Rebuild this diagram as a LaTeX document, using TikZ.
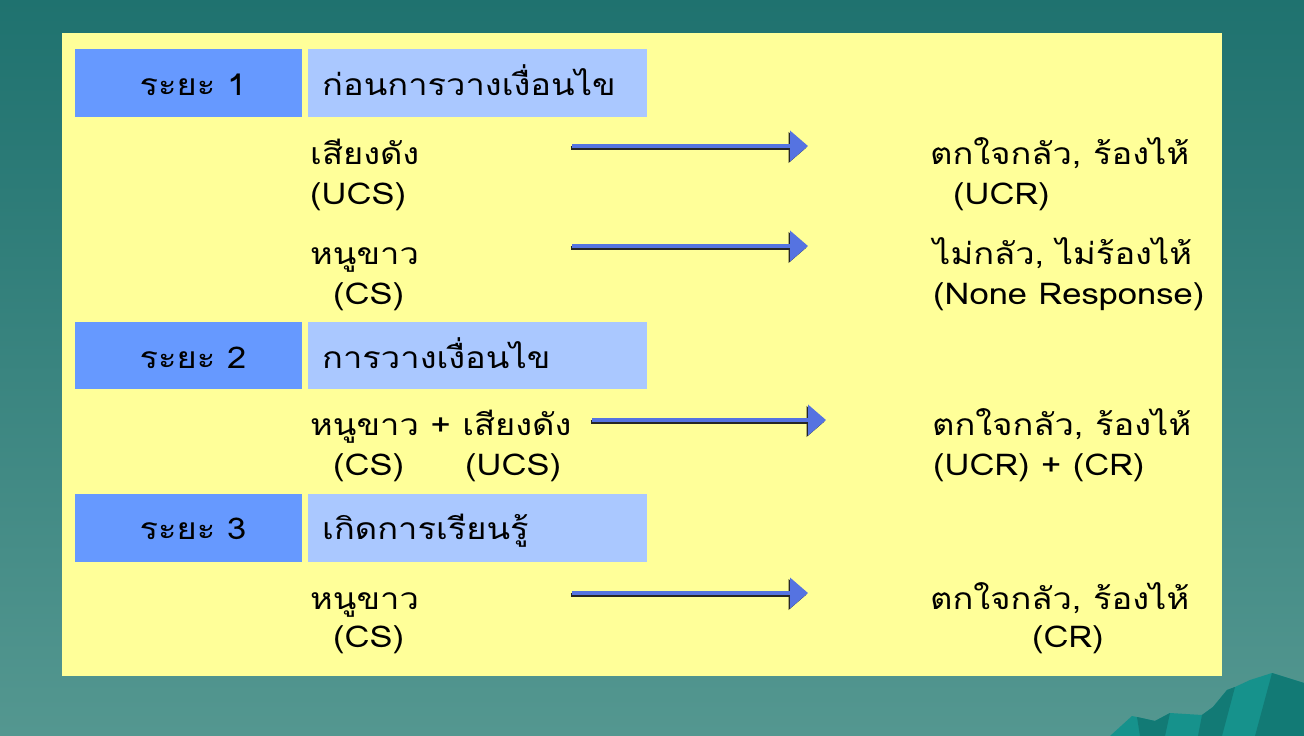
\documentclass[tikz,border=0pt]{standalone}
\usepackage{fontspec}
\newfontfamily\thaifont[Script=Thai,FakeStretch=1.15]{Loma}
\usetikzlibrary{arrows.meta}
\definecolor{bgtop}{RGB}{31,114,111}
\definecolor{bgbot}{RGB}{84,151,144}
\definecolor{panel}{RGB}{255,255,153}
\definecolor{darkbox}{RGB}{102,153,255}
\definecolor{lightbox}{RGB}{170,200,255}
\definecolor{arrowblue}{RGB}{85,115,225}
\definecolor{mtlight}{RGB}{22,146,140}
\definecolor{mtdark}{RGB}{18,122,117}
\tikzset{
  txt/.style={inner sep=0pt, anchor=base west, font=\thaifont\fontsize{30}{40}\selectfont, text=black},
  boxtxt/.style={txt},
  stagebox/.style={fill=darkbox, draw=none},
  titlebox/.style={fill=lightbox, draw=none},
  fatarrow/.style={line width=4pt, draw=arrowblue,
    -{Triangle[length=18pt,width=30pt,fill=arrowblue]},
    preaction={draw=black!85, line width=4pt, -{Triangle[length=18pt,width=30pt,fill=black!85]},
      transform canvas={xshift=-1.5pt,yshift=-1.5pt}}}
}
\begin{document}
\begin{tikzpicture}[x=1pt,y=-1pt]
\useasboundingbox (0,0) rectangle (1304,736);
% background
\shade[top color=bgtop, bottom color=bgbot] (0,0) rectangle (1304,736);
% mountain
\fill[mtlight] (1110,736) -- (1132,716) -- (1137,717) -- (1155,721) -- (1170,713) -- (1202,715) -- (1213,707) -- (1227,690) -- (1235,687) -- (1250,680) -- (1272,673) -- (1304,683) -- (1304,736) -- cycle;
\fill[mtdark] (1137,717) -- (1155,721) -- (1170,713) -- (1165,736) -- (1140,736) -- cycle;
\fill[mtdark] (1202,715) -- (1213,707) -- (1227,690) -- (1235,687) -- (1222,736) -- (1198,736) -- cycle;
\fill[mtdark] (1272,673) -- (1304,683) -- (1304,736) -- (1255,736) -- cycle;
% panel
\fill[panel] (62,33) rectangle (1222,676);
% stage boxes
\node[stagebox, minimum width=227pt, minimum height=68pt, anchor=north west] (s1) at (75,49) {};
\node[titlebox, minimum width=339pt, minimum height=68pt, anchor=north west] (t1) at (308,49) {};
\node[stagebox, minimum width=227pt, minimum height=67pt, anchor=north west] (s2) at (75,322) {};
\node[titlebox, minimum width=339pt, minimum height=67pt, anchor=north west] (t2) at (308,322) {};
\node[stagebox, minimum width=227pt, minimum height=68pt, anchor=north west] (s3) at (75,494) {};
\node[titlebox, minimum width=339pt, minimum height=68pt, anchor=north west] (t3) at (308,494) {};
% box texts
\node[boxtxt, anchor=base] (s1t) at (193,95) {ระยะ 1};
\node[boxtxt] (t1t) at (322,95) {ก่อนการวางเงื่อนไข};
\node[boxtxt, anchor=base] (s2t) at (193,368) {ระยะ 2};
\node[boxtxt] (t2t) at (322,368) {การวางเงื่อนไข};
\node[boxtxt, anchor=base] (s3t) at (193,539) {ระยะ 3};
\node[boxtxt] (t3t) at (322,539) {เกิดการเรียนรู้};
% row 1
\node[txt] (l1a) at (310,164) {เสียงดัง};
\node[txt] (l1b) at (310,204) {(UCS)};
\node[txt] (r1a) at (930,164) {ตกใจกลัว, ร้องไห้};
\node[txt] (r1b) at (953,204) {(UCR)};
\coordinate (a1s) at (572,146);
\coordinate (a1e) at (808,146);
\draw[fatarrow] (a1s) -- (a1e);
% row 2
\node[txt] (l2a) at (310,264) {หนูขาว};
\node[txt] (l2b) at (333,304) {(CS)};
\node[txt] (r2a) at (933,264) {ไม่กลัว, ไม่ร้องไห้};
\node[txt] (r2b) at (933,304) {(None Response)};
\coordinate (a2s) at (572,246);
\coordinate (a2e) at (808,246);
\draw[fatarrow] (a2s) -- (a2e);
% row 3
\node[txt] (l3a) at (310,435) {หนูขาว + เสียงดัง};
\node[txt] (l3b) at (333,475) {(CS)};
\node[txt] (l3c) at (465,475) {(UCS)};
\node[txt] (r3a) at (932,435) {ตกใจกลัว, ร้องไห้};
\node[txt] (r3b) at (933,475) {(UCR) + (CR)};
\coordinate (a3s) at (592,420);
\coordinate (a3e) at (826,420);
\draw[fatarrow] (a3s) -- (a3e);
% row 4
\node[txt] (l4a) at (310,609) {หนูขาว};
\node[txt] (l4b) at (333,647) {(CS)};
\node[txt] (r4a) at (930,609) {ตกใจกลัว, ร้องไห้};
\node[txt] (r4b) at (1032,647) {(CR)};
\coordinate (a4s) at (572,593);
\coordinate (a4e) at (808,593);
\draw[fatarrow] (a4s) -- (a4e);
\end{tikzpicture}
\end{document}
